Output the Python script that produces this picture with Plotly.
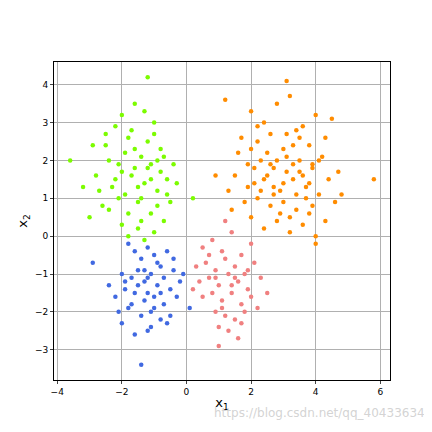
import plotly.graph_objects as go

# cluster points
green_x = [-1.2, -3.6, 0.2, -2.8, -2.5, -2.2, -2.0, -1.8, -1.6, -1.4, -1.2, -1.0, -0.8, -0.6, -0.4,
           -2.6, -2.3, -2.1, -1.9, -1.7, -1.5, -1.3, -1.1, -0.9, -0.7, -0.5, -3.0, -2.9, -2.4, -2.0,
           -1.8, -1.5, -1.3, -1.0, -0.9, -0.6, -2.2, -1.9, -1.6, -1.4, -1.1, -0.8, -2.7, -2.4, -1.7,
           -1.2, -0.3, -3.2, -2.0, -1.5, -1.0, -0.7, -1.8, -2.5, -1.4, -1.1, -2.1, -1.6, -0.9, -1.3]
green_y = [4.2, 2.0, 1.0, 1.6, 2.4, 2.9, 3.2, 2.6, 3.5, 2.1, 1.8, 2.7, 2.3, 1.5, 1.9,
           0.8, 1.3, 1.9, 1.1, 1.6, 0.9, 1.4, 0.6, 1.2, 0.4, 0.9, 0.5, 2.4, 2.0, 0.3,
           0.0, 0.2, -0.1, 0.1, 2.0, 1.1, 1.5, 2.2, 1.8, 1.0, 1.5, 1.7, 1.2, 0.7, 2.8,
           2.5, 1.4, 1.3, 1.7, 1.3, 3.0, 2.1, 0.6, 2.7, 0.4, 1.9, 1.0, 2.3, 0.8, 3.3]

orange_x = [3.1, 1.2, 5.8, 4.5, 2.0, 2.4, 2.8, 3.2, 3.6, 4.0, 4.3, 2.2, 2.6, 3.0, 3.4, 3.8, 4.2,
            1.6, 1.9, 2.3, 2.7, 3.1, 3.5, 3.9, 4.4, 2.1, 2.5, 2.9, 3.3, 3.7, 4.1, 1.8, 2.2,
            2.6, 3.0, 3.4, 3.8, 4.6, 1.5, 2.0, 2.4, 2.8, 3.2, 3.6, 4.0, 2.3, 2.7, 3.1, 3.5,
            3.9, 1.7, 2.5, 3.3, 4.1, 4.8, 1.3, 2.9, 3.7, 2.1, 3.0, 3.4, 2.6, 3.8, 1.9, 4.3,
            2.2, 3.2, 2.8, 3.6, 4.0, 2.4, 3.5, 3.1, 2.7, 1.4, 4.7, 3.9, 0.9, 2.0, 3.3]
orange_y = [4.1, 3.6, 1.5, 3.1, 3.3, 3.0, 3.5, 3.7, 2.9, 3.2, 2.6, 2.5, 2.7, 2.3, 2.8, 2.4, 2.1,
            2.2, 1.9, 2.0, 1.8, 2.1, 1.7, 1.9, 1.5, 1.4, 1.6, 1.2, 1.5, 1.3, 1.1, 0.9, 1.0,
            0.8, 0.9, 0.7, 0.6, 0.9, 1.6, 0.5, 0.2, 0.4, 0.1, 0.3, 0.0, 1.2, 1.3, 1.7, 2.0,
            1.8, 2.6, 2.2, 2.4, 2.0, 1.1, 1.2, 0.6, 1.0, 1.8, 1.4, 1.1, 1.9, 1.4, 1.3, 0.4,
            2.9, 0.5, 2.0, 1.6, -0.2, 1.5, 2.6, 2.7, 1.1, 0.7, 1.7, 0.8, 1.6, 2.3, 1.9]

blue_x = [-1.4, -2.9, -1.2, -1.8, -1.6, -1.4, -1.2, -1.0, -0.8, -0.6, -0.4, -2.0, -1.7, -1.5,
          -1.3, -1.1, -0.9, -0.7, -0.5, -0.2, -2.2, -1.9, -1.6, -1.3, -1.0, -0.7, -0.3, 0.1,
          -2.1, -1.8, -1.4, -1.1, -0.8, -0.5, -1.5, -1.2, -0.9, -2.4, -0.6, -1.0, -1.7, -1.3,
          -0.4, -2.0, -1.1, -1.6, -0.8, -1.9, -1.2, -0.1]
blue_y = [-3.4, -0.7, -2.5, -0.2, -0.4, -0.6, -0.3, -0.5, -0.8, -0.4, -0.9, -1.0, -1.1, -0.9,
          -1.2, -1.0, -1.3, -1.1, -1.4, -1.2, -1.6, -1.4, -1.5, -1.7, -1.6, -1.8, -1.6, -1.9,
          -2.0, -1.9, -2.1, -2.0, -2.2, -2.1, -1.3, -1.5, -0.7, -1.3, -2.3, -1.9, -1.8, -0.9,
          -0.6, -2.3, -2.4, -2.6, -1.5, -1.2, -1.1, -1.0]

pink_x = [1.0, 0.5, 0.8, 1.1, 1.4, 1.7, 2.0, 0.3, 0.6, 0.9, 1.2, 1.5, 1.8, 2.1, 0.4, 0.7,
          1.0, 1.3, 1.6, 1.9, 2.3, 0.5, 0.8, 1.1, 1.4, 1.7, 2.0, 0.9, 1.2, 1.5, 1.8, 1.3,
          1.0, 1.6, 0.2, 2.5, 1.4, 0.7, 1.1, 1.9, 1.2, 0.9, 1.5, 1.7, 2.2]
pink_y = [-2.9, -0.3, -0.1, -0.4, 0.1, -0.5, -0.2, -0.8, -0.7, -0.9, -0.6, -0.8, -1.0, -0.7,
          -1.2, -1.1, -1.3, -1.0, -1.2, -1.4, -1.1, -1.6, -1.5, -1.7, -1.5, -1.8, -1.6, -2.0,
          -2.1, -2.2, -2.0, -2.5, -2.4, -2.7, -1.4, -1.5, -1.3, -0.5, -1.9, -0.9, 0.4, -1.1,
          -1.1, -2.3, -1.9]

clusters = [(green_x, green_y, "#7CFC00"), (orange_x, orange_y, "#FF8C00"),
            (blue_x, blue_y, "#4169E1"), (pink_x, pink_y, "#F08080")]

fig = go.Figure()
for xs, ys, c in clusters:
    fig.add_trace(go.Scatter(x=xs, y=ys, mode="markers",
                             marker=dict(color=c, size=4.5), showlegend=False))

ax = dict(showline=True, linecolor="black", mirror=True, showgrid=True, gridcolor="#b0b0b0",
          zeroline=False, ticks="outside", ticklen=3, tickfont=dict(size=9, color="black"))
fig.update_xaxes(range=[-4.1, 6.3], tickvals=[-4, -2, 0, 2, 4, 6],
                 title=dict(text="x<sub>1</sub>", font=dict(size=13), standoff=2), **ax)
fig.update_yaxes(range=[-3.8, 4.6], tickvals=list(range(-3, 5)),
                 title=dict(text="x<sub>2</sub>", font=dict(size=13), standoff=4), **ax)
fig.add_annotation(text="https://blog.csdn.net/qq_40433634", xref="paper", yref="paper",
                   x=1.11, y=-0.105, showarrow=False, xanchor="right", yanchor="middle",
                   font=dict(size=12, color="rgba(200,200,200,0.8)"))
fig.update_layout(width=432, height=432, plot_bgcolor="white", paper_bgcolor="white",
                  margin=dict(l=46, r=50, t=54, b=60),
                  font=dict(family="DejaVu Sans", color="black"))
fig.write_html("out.html")
